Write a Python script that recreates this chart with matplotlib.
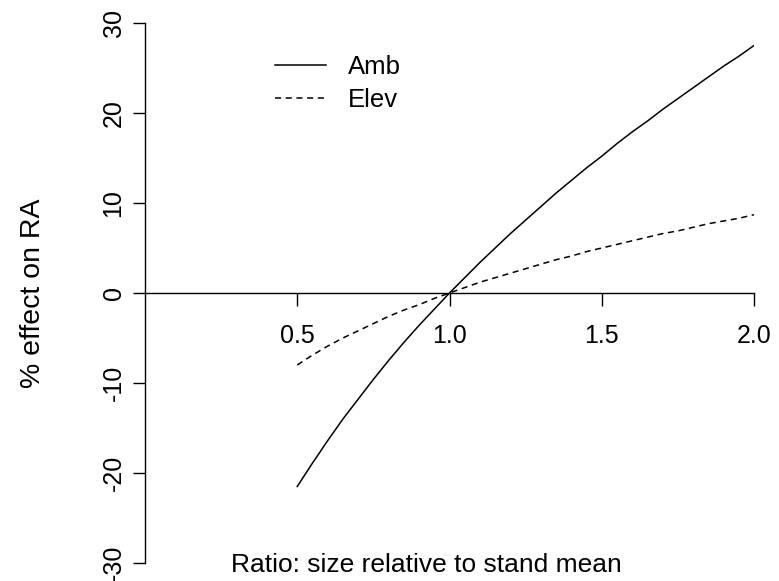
import matplotlib
matplotlib.use('Agg')
import matplotlib.pyplot as plt

# ratio of size to stand mean
ratio = [0.5, 0.55, 0.6, 0.65, 0.7, 0.75, 0.8, 0.85, 0.9, 0.95, 1.0,
         1.05, 1.1, 1.15, 1.2, 1.25, 1.3, 1.35, 1.4, 1.45, 1.5,
         1.55, 1.6, 1.65, 1.7, 1.75, 1.8, 1.85, 1.9, 1.95, 2.0]
# % effect on RA
amb = [-21.5, -18.9, -16.4, -14.0, -11.8, -9.6, -7.5, -5.5, -3.6, -1.8, 0.0,
       1.7, 3.4, 5.0, 6.6, 8.1, 9.6, 11.1, 12.5, 13.9, 15.2,
       16.6, 17.9, 19.1, 20.4, 21.6, 22.8, 24.0, 25.2, 26.3, 27.5]
elev = [-8.0, -6.9, -5.9, -5.0, -4.2, -3.4, -2.6, -1.9, -1.3, -0.6, 0.0,
        0.6, 1.2, 1.7, 2.2, 2.7, 3.2, 3.7, 4.1, 4.6, 5.0,
        5.4, 5.8, 6.2, 6.6, 6.9, 7.3, 7.7, 8.0, 8.3, 8.7]

xticks = [0.5, 1.0, 1.5, 2.0]
yticks = [-30, -20, -10, 0, 10, 20, 30]

plt.rcParams['font.family'] = ['Liberation Sans', 'DejaVu Sans']

W, H = 779, 581
fig = plt.figure(figsize=(W / 100, H / 100), dpi=100)
x0, x1 = 145, 754
y0, y1 = 563, 23
ax = fig.add_axes([x0 / W, 1 - y0 / H, (x1 - x0) / W, (y0 - y1) / H])

ax.plot(ratio, amb, color='black', lw=1.1, label='Amb')
ax.plot(ratio, elev, color='black', lw=1.1, ls=(0, (4, 3)), label='Elev')

ax.set_xlim(0, 2)
ax.set_ylim(-30, 30)

for s in ['top', 'right']:
    ax.spines[s].set_visible(False)
ax.spines['bottom'].set_position(('data', 0))
ax.spines['bottom'].set_bounds(0, 2)
ax.spines['left'].set_bounds(-30, 30)
for s in ['bottom', 'left']:
    ax.spines[s].set_linewidth(1.0)

ax.set_xticks(xticks)
ax.set_xticklabels(['0.5', '1.0', '1.5', '2.0'])
ax.set_yticks(yticks)
ax.set_yticklabels([str(v) for v in yticks], rotation=90, va='center')
ax.tick_params(axis='both', length=9, width=1.0, labelsize=18, direction='out')
ax.tick_params(axis='x', pad=13)
ax.tick_params(axis='y', pad=5)

ax.set_ylabel('% effect on RA', fontsize=20.5, va='center')
ax.yaxis.set_label_coords((33 - x0) / (x1 - x0), 0.5)
ax.set_xlabel('Ratio: size relative to stand mean', fontsize=19, va='center')
ax.xaxis.set_label_coords((426 - x0) / (x1 - x0), (y0 - 565) / (y0 - y1))

ax.legend(loc='upper left', bbox_to_anchor=((275 - x0) / (x1 - x0), (y0 - 55) / (y0 - y1)),
          frameon=False, fontsize=18.5, handlelength=2.0, handletextpad=0.85,
          labelspacing=0.35, borderpad=0, borderaxespad=0)

fig.savefig('out.png', dpi=100)
